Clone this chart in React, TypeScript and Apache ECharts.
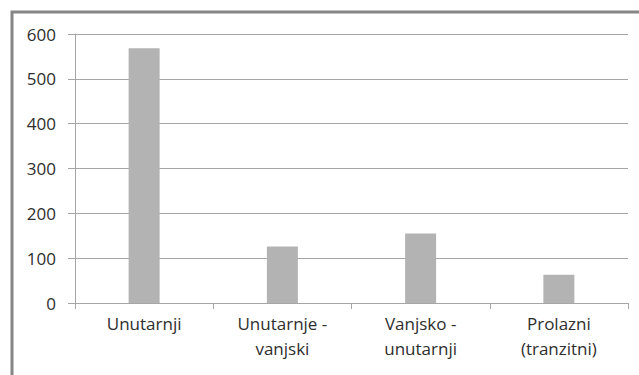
import React, { useEffect, useRef } from "react";
import * as echarts from "echarts";

const categories = ["Unutarnji", "Unutarnje -\nvanjski", "Vanjsko -\nunutarnji", "Prolazni\n(tranzitni)"];
const values = [568, 126, 155, 63];
const yMin = 0;
const yMax = 600;
const yStep = 100;

export default function App() {
  const ref = useRef<HTMLDivElement>(null);
  useEffect(() => {
    document.body.style.margin = "0";
    const chart = echarts.init(ref.current!, null, { renderer: "svg" });
    const font = "'Open Sans', sans-serif";
    chart.setOption({
      animation: false,
      backgroundColor: "#ffffff",
      graphic: [
        {
          type: "rect",
          shape: { x: 12, y: 12, width: 700, height: 500 },
          style: { fill: "none", stroke: "#868686", lineWidth: 3 },
          silent: true,
        },
      ],
      grid: { left: 75, right: 11, top: 34, bottom: 72, containLabel: false },
      xAxis: {
        type: "category",
        data: categories,
        axisLine: { show: true, lineStyle: { color: "#a6a6a6", width: 1 } },
        axisTick: { show: true, length: 6, lineStyle: { color: "#a6a6a6" } },
        axisLabel: {
          color: "#2e2e2e",
          fontFamily: font,
          fontSize: 17,
          lineHeight: 25,
          margin: 8,
          interval: 0,
        },
      },
      yAxis: {
        type: "value",
        min: yMin,
        max: yMax,
        interval: yStep,
        axisLine: { show: true, lineStyle: { color: "#a6a6a6", width: 1 } },
        axisTick: { show: true, length: 7, lineStyle: { color: "#a6a6a6" } },
        splitLine: { show: true, lineStyle: { color: "#a6a6a6", width: 1 } },
        axisLabel: {
          color: "#2e2e2e",
          fontFamily: font,
          fontSize: 17,
          margin: 19,
        },
      },
      series: [
        {
          type: "bar",
          data: values,
          barWidth: 31,
          itemStyle: { color: "#b3b3b3" },
        },
      ],
    });
    return () => chart.dispose();
  }, []);
  return (
    <div
      ref={ref}
      style={{ position: "fixed", left: 0, top: 0, width: 639, height: 375, background: "#fff" }}
    />
  );
}
